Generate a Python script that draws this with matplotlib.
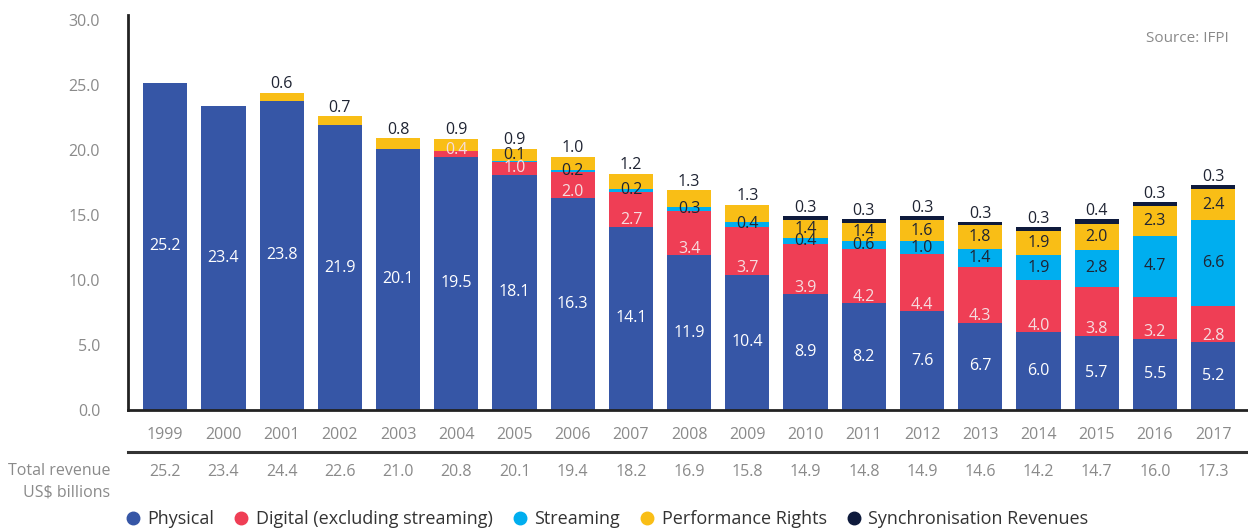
import numpy as np
import matplotlib.pyplot as plt
from matplotlib.lines import Line2D

plt.rcParams['font.family'] = ['Open Sans', 'DejaVu Sans']

# donnees (US$ milliards)
years = ['1999', '2000', '2001', '2002', '2003', '2004', '2005', '2006', '2007', '2008',
         '2009', '2010', '2011', '2012', '2013', '2014', '2015', '2016', '2017']
physical = [25.2, 23.4, 23.8, 21.9, 20.1, 19.5, 18.1, 16.3, 14.1, 11.9,
            10.4, 8.9, 8.2, 7.6, 6.7, 6.0, 5.7, 5.5, 5.2]
digital = [0, 0, 0, 0, 0, 0.4, 1.0, 2.0, 2.7, 3.4,
           3.7, 3.9, 4.2, 4.4, 4.3, 4.0, 3.8, 3.2, 2.8]
streaming = [0, 0, 0, 0, 0, 0.05, 0.1, 0.2, 0.2, 0.3,
             0.4, 0.4, 0.6, 1.0, 1.4, 1.9, 2.8, 4.7, 6.6]
performance = [0, 0, 0.6, 0.7, 0.8, 0.9, 0.9, 1.0, 1.2, 1.3,
               1.3, 1.4, 1.4, 1.6, 1.8, 1.9, 2.0, 2.3, 2.4]
sync = [0, 0, 0, 0, 0, 0, 0, 0, 0, 0,
        0, 0.3, 0.3, 0.3, 0.3, 0.3, 0.4, 0.3, 0.3]
totals = ['25.2', '23.4', '24.4', '22.6', '21.0', '20.8', '20.1', '19.4', '18.2', '16.9',
          '15.8', '14.9', '14.8', '14.9', '14.6', '14.2', '14.7', '16.0', '17.3']
series_names = ['Physical', 'Digital (excluding streaming)', 'Streaming',
                'Performance Rights', 'Synchronisation Revenues']

colors = ['#3656a6', '#ef3e55', '#00aeef', '#f9be16', '#0e1a3c']
grey = '#8a8a8a'
dark = '#1f2433'

fig = plt.figure(figsize=(12.48, 5.31), dpi=100)
ax = fig.add_axes([128 / 1248, 1 - 410 / 531, 1 - 128 / 1248, 395 / 531])

x = np.arange(len(years))
w = 0.76
series = [physical, digital, streaming, performance, sync]
bottom = np.zeros(len(years))
for s, c, name in zip(series, colors, series_names):
    ax.bar(x, s, w, bottom=bottom, color=c, label=name, zorder=2)
    bottom = bottom + np.array(s)

fs = 11.5
for i in range(len(years)):
    p, d, st, pf, sy = physical[i], digital[i], streaming[i], performance[i], sync[i]
    ax.text(i, p / 2, f'{p:.1f}', ha='center', va='center', color='white', fontsize=fs)
    base = p
    if d > 0:
        ax.text(i, base + 0.5, f'{d:.1f}', ha='center', va='center', color='#f6dde0', fontsize=fs)
    base += d
    if st >= 0.1:
        off = 0.5 if st < 0.15 else 0
        ax.text(i, base + st / 2 + off, f'{st:.1f}', ha='center', va='center', color=dark, fontsize=fs)
    base += st
    if pf > 0:
        if sy > 0:
            ax.text(i, base + pf / 2, f'{pf:.1f}', ha='center', va='center', color=dark, fontsize=fs)
        else:
            ax.text(i, base + pf + 0.05, f'{pf:.1f}', ha='center', va='bottom', color=dark, fontsize=fs)
    base += pf
    if sy > 0:
        ax.text(i, base + sy + 0.0, f'{sy:.1f}', ha='center', va='bottom', color=dark, fontsize=fs)

ax.set_xlim(-0.64, 18.6)
ax.set_ylim(0, 30.4)
ax.set_yticks(np.arange(0, 31, 5))
ax.set_yticklabels([f'{v:.1f}' for v in np.arange(0, 31, 5)])
ax.set_xticks(x)
ax.set_xticklabels(years)
ax.tick_params(axis='both', length=0, colors=grey, labelsize=11.5)
ax.tick_params(axis='x', pad=12)
ax.tick_params(axis='y', pad=20)
for sp in ['top', 'right']:
    ax.spines[sp].set_visible(False)
ax.spines['left'].set_linewidth(2)
ax.spines['bottom'].set_linewidth(2)
ax.spines['left'].set_color('#222222')
ax.spines['bottom'].set_color('#222222')

ax.text(1101 / 1120, 1 - 23 / 395, 'Source: IFPI', transform=ax.transAxes, ha='right', va='center',
        color=grey, fontsize=11)

# ligne de separation et total
fig.add_artist(Line2D([128 / 1248, 1.0], [1 - 452 / 531, 1 - 452 / 531],
                      color='#333333', lw=2.2, transform=fig.transFigure))
for i, t in enumerate(totals):
    ax.text(i, -62 / 395, t, transform=ax.get_xaxis_transform(), ha='center', va='center',
            color=grey, fontsize=11.5)
fig.text(110 / 1248, 1 - 471 / 531, 'Total revenue', ha='right', va='center', color=grey, fontsize=11.5)
fig.text(110 / 1248, 1 - 492 / 531, 'US$ billions', ha='right', va='center', color=grey, fontsize=11.5)

handles = [Line2D([], [], marker='o', ls='', color=c, markersize=9) for c in colors]
fig.legend(handles, series_names, loc='center left', bbox_to_anchor=(124 / 1248, 1 - 519 / 531),
           ncol=5, frameon=False, handletextpad=0.3, columnspacing=1.0, fontsize=13,
           labelcolor='#333333', handlelength=1.0, borderaxespad=0, borderpad=0)

plt.savefig('out.png')
